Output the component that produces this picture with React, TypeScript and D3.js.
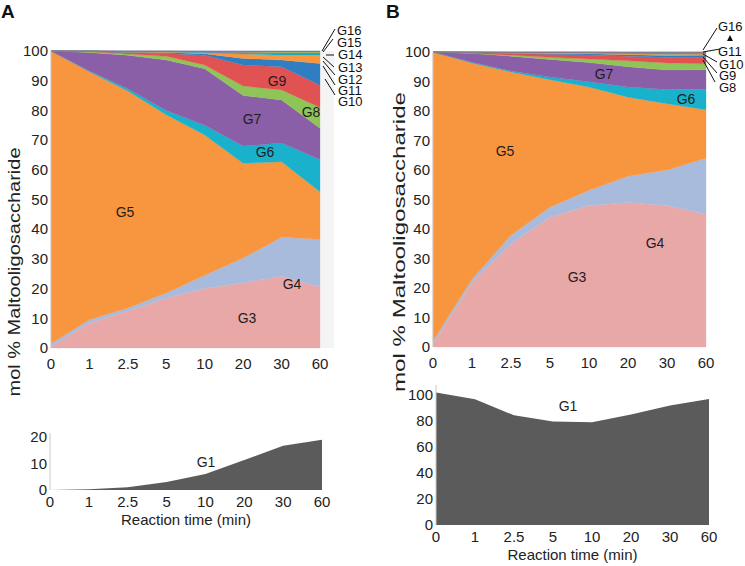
import React from "react";
import * as d3 from "d3";

const times = ["0", "1", "2.5", "5", "10", "20", "30", "60"];
const keys = ["G3", "G4", "G5", "G6", "G7", "G8", "G9", "G10", "G11", "G12", "G13", "G14", "G15", "G16"];
const colors = ["#e9a8a8", "#a8bbdc", "#f8963f", "#19b1cb", "#8a5fa7", "#8fc456", "#e05352", "#2f7ec1", "#f8963f", "#19b1cb", "#8a5fa7", "#8fc456", "#e05352", "#2f7ec1"];

// Panel A (mol %)
const A_G3 = [0.5, 8.4, 12.5, 16.8, 20, 22, 24.2, 20.5];
const A_G4 = [1.0, 1.1, 1.0, 1.7, 4.5, 8.3, 13.1, 16.1];
const A_G5 = [98.5, 83.5, 73, 60, 47.2, 31.9, 25.4, 16];
const A_G6 = [0, 0.3, 0.8, 1.5, 3.3, 5.8, 6.3, 10.9];
const A_G7 = [0, 6.2, 11.3, 17, 19, 17, 14.5, 10.5];
const A_G8 = [0, 0.3, 0.4, 1.2, 1.3, 3.2, 3.4, 7];
const A_G9 = [0, 0.1, 0.4, 1.0, 3.3, 7.1, 7.8, 7.5];
const A_G10 = [0, 0.05, 0.2, 0.3, 0.5, 2.2, 2.3, 7.3];
const A_G11 = [0, 0.05, 0.1, 0.2, 0.3, 1.5, 1.6, 2.8];
const A_G12 = [0, 0, 0.1, 0.1, 0.2, 0.35, 0.5, 0.5];
const A_G13 = [0, 0, 0.08, 0.08, 0.15, 0.25, 0.35, 0.35];
const A_G14 = [0, 0, 0.06, 0.06, 0.1, 0.2, 0.25, 0.25];
const A_G15 = [0, 0, 0.04, 0.04, 0.1, 0.12, 0.18, 0.18];
const A_G16 = [0, 0, 0.02, 0.02, 0.05, 0.08, 0.12, 0.12];
const A_G1 = [0, 0.3, 1, 3, 6, 11.3, 16.7, 19];

// Panel B (mol %)
const B_G3 = [1, 21.9, 35, 44, 48, 49, 48, 45];
const B_G4 = [1, 1.1, 2.9, 3.4, 5.1, 8.9, 12, 19];
const B_G5 = [98, 73.3, 55.3, 43.2, 35, 26.8, 22.5, 16.4];
const B_G6 = [0, 0.2, 0.4, 0.9, 1.8, 3.4, 4.8, 7];
const B_G7 = [0, 3, 5, 6, 6.5, 6.9, 6.6, 6.6];
const B_G8 = [0, 0.1, 0.3, 0.7, 1.2, 2, 2.4, 2];
const B_G9 = [0, 0.2, 0.5, 1.0, 1.4, 1.6, 1.9, 2.2];
const B_G10 = [0, 0.05, 0.2, 0.3, 0.4, 0.5, 0.6, 0.7];
const B_G11 = [0, 0.05, 0.1, 0.2, 0.25, 0.3, 0.4, 0.4];
const B_G12 = [0, 0.04, 0.1, 0.1, 0.12, 0.2, 0.3, 0.25];
const B_G13 = [0, 0.03, 0.08, 0.08, 0.1, 0.15, 0.2, 0.18];
const B_G14 = [0, 0.02, 0.06, 0.06, 0.07, 0.1, 0.15, 0.13];
const B_G15 = [0, 0.01, 0.04, 0.04, 0.04, 0.1, 0.1, 0.1];
const B_G16 = [0, 0, 0.02, 0.02, 0.02, 0.05, 0.05, 0.04];
const B_G1 = [102, 96.7, 84.4, 79.7, 79, 85, 92, 97];

const topTicks = [0, 10, 20, 30, 40, 50, 60, 70, 80, 90, 100];
const aBottomTicks = [0, 10, 20];
const bBottomTicks = [0, 20, 40, 60, 80, 100];

const FONT = "'Liberation Sans', Arial, Helvetica, sans-serif";

function buildRows(series: number[][]) {
  return times.map((t, i) => {
    const row: any = { t };
    keys.forEach((k, j) => (row[k] = series[j][i]));
    return row;
  });
}

const rowsA = buildRows([A_G3, A_G4, A_G5, A_G6, A_G7, A_G8, A_G9, A_G10, A_G11, A_G12, A_G13, A_G14, A_G15, A_G16]);
const rowsB = buildRows([B_G3, B_G4, B_G5, B_G6, B_G7, B_G8, B_G9, B_G10, B_G11, B_G12, B_G13, B_G14, B_G15, B_G16]);

function StackChart({ rows, x0, x1, yTop, yBot, inner, leaders }: any) {
  const x = d3.scalePoint<string>().domain(times).range([x0, x1]);
  const y = d3.scaleLinear().domain([0, 100]).range([yBot, yTop]);
  const stack = d3.stack<any>().keys(keys);
  const layers = stack(rows);
  const area = d3
    .area<any>()
    .x((d: any) => x(d.data.t) as number)
    .y0((d: any) => y(d[0]))
    .y1((d: any) => Math.max(yTop, y(d[1])));
  return (
    <g>
      {layers.map((L, i) => (
        <path key={keys[i]} d={area(L) || ""} fill={colors[i]} stroke={colors[i]} strokeWidth={0.3} />
      ))}
      <line x1={x0} x2={x0} y1={yTop} y2={yBot} stroke="#c8c8c8" strokeWidth={1} />
      {topTicks.map((t) => (
        <text key={t} x={x0 - 3} y={y(t)} dy="0.35em" textAnchor="end" fontSize={15} fill="#222">
          {t}
        </text>
      ))}
      {times.map((t) => (
        <text key={t} x={x(t)} y={yBot + 21} textAnchor="middle" fontSize={15} fill="#222">
          {t}
        </text>
      ))}
      {inner.map((l: any) => (
        <text key={l.t} x={l.x} y={l.y} dy="0.35em" textAnchor="middle" fontSize={14} fill="#1e1e1e">
          {l.t}
        </text>
      ))}
      {leaders.map((l: any, i: number) => (
        <g key={i}>
          {l.line && <line x1={l.line[0]} y1={l.line[1]} x2={l.line[2]} y2={l.line[3]} stroke="#111" strokeWidth={1} />}
          <text x={l.x} y={l.y} dy="0.35em" fontSize={13} fill="#111">
            {l.t}
          </text>
        </g>
      ))}
    </g>
  );
}

function G1Chart({ values, x0, x1, yTop, yBot, yMax, ticks, axisTop, label }: any) {
  const x = d3.scalePoint<string>().domain(times).range([x0, x1]);
  const y = d3.scaleLinear().domain([0, yMax]).range([yBot, yTop]);
  const area = d3
    .area<number>()
    .x((_, i) => x(times[i]) as number)
    .y0(yBot)
    .y1((d) => y(d));
  return (
    <g>
      <path d={area(values) || ""} fill="#5b5b5b" />
      <line x1={x0} x2={x0} y1={axisTop} y2={yBot} stroke="#c8c8c8" strokeWidth={1} />
      {ticks.map((t: number) => (
        <text key={t} x={x0 - 3} y={y(t)} dy="0.35em" textAnchor="end" fontSize={15} fill="#222">
          {t}
        </text>
      ))}
      {times.map((t) => (
        <text key={t} x={x(t)} y={yBot + 17} textAnchor="middle" fontSize={15} fill="#222">
          {t}
        </text>
      ))}
      <text x={(x0 + x1) / 2} y={yBot + 35} textAnchor="middle" fontSize={15} fill="#222">
        Reaction time (min)
      </text>
      <text x={label.x} y={label.y} dy="0.35em" textAnchor="middle" fontSize={14} fill="#1e1e1e">
        G1
      </text>
    </g>
  );
}

export default function App() {
  const innerA = [
    { t: "G9", x: 277, y: 81 },
    { t: "G8", x: 311, y: 112 },
    { t: "G7", x: 252, y: 119 },
    { t: "G6", x: 265, y: 152 },
    { t: "G5", x: 125, y: 212 },
    { t: "G4", x: 292, y: 284 },
    { t: "G3", x: 247, y: 318 },
  ];
  const leadersA = [
    { t: "G16", x: 337, y: 30, line: [335, 29, 322, 51] },
    { t: "G15", x: 337, y: 42, line: [333, 39, 323, 52] },
    { t: "G14", x: 338, y: 54, line: [326, 55, 334, 55] },
    { t: "G13", x: 338, y: 67, line: [323, 57, 334, 67] },
    { t: "G12", x: 338, y: 79, line: [323, 61, 335, 75] },
    { t: "G11", x: 338, y: 90, line: [323, 66, 335, 85] },
    { t: "G10", x: 338, y: 101, line: [325, 79, 335, 95] },
  ];
  const innerB = [
    { t: "G7", x: 604, y: 74 },
    { t: "G6", x: 686, y: 99 },
    { t: "G5", x: 505, y: 151 },
    { t: "G4", x: 655, y: 243 },
    { t: "G3", x: 577, y: 277 },
  ];
  const leadersB = [
    { t: "G16", x: 718, y: 26, line: [717, 28, 703, 50] },
    { t: "G11", x: 718, y: 51, line: [703, 52, 720, 49] },
    { t: "G10", x: 719, y: 64, line: [703, 54, 717, 62] },
    { t: "G9", x: 719, y: 75, line: [703, 57, 717, 73] },
    { t: "G8", x: 719, y: 87, line: [703, 60, 715, 82] },
  ];
  return (
    <svg width={745} height={566} style={{ position: "absolute", left: 0, top: 0, background: "#fff" }} fontFamily={FONT}>
      <rect x={0} y={0} width={745} height={566} fill="#fff" />
      <text x={1} y={18} fontSize={19} fontWeight="bold" fill="#111">A</text>
      <text x={386} y={18} fontSize={19} fontWeight="bold" fill="#111">B</text>

      <rect x={320} y={51} width={14} height={297} fill="#f4f4f4" />
      <StackChart rows={rowsA} x0={51} x1={320} yTop={51} yBot={348} inner={innerA} leaders={leadersA} />
      <StackChart rows={rowsB} x0={433} x1={706} yTop={52} yBot={347} inner={innerB} leaders={leadersB} />
      <path d="M727,41 L733,41 L730,35 Z" fill="#111" />

      <G1Chart values={A_G1} x0={50} x1={322} yTop={437} yBot={490} yMax={20} ticks={aBottomTicks} axisTop={433} label={{ x: 206, y: 462 }} />
      <G1Chart values={B_G1} x0={436} x1={709} yTop={395} yBot={525} yMax={100} ticks={bBottomTicks} axisTop={385} label={{ x: 568, y: 406 }} />

      <text transform="translate(20,272) rotate(-90)" textAnchor="middle" fontSize={16} fill="#222" textLength={249} lengthAdjust="spacingAndGlyphs">
        mol % Maltooligosaccharide
      </text>
      <text transform="translate(405,242) rotate(-90)" textAnchor="middle" fontSize={16} fill="#222" textLength={300} lengthAdjust="spacingAndGlyphs">
        mol % Maltooligosaccharide
      </text>
    </svg>
  );
}
